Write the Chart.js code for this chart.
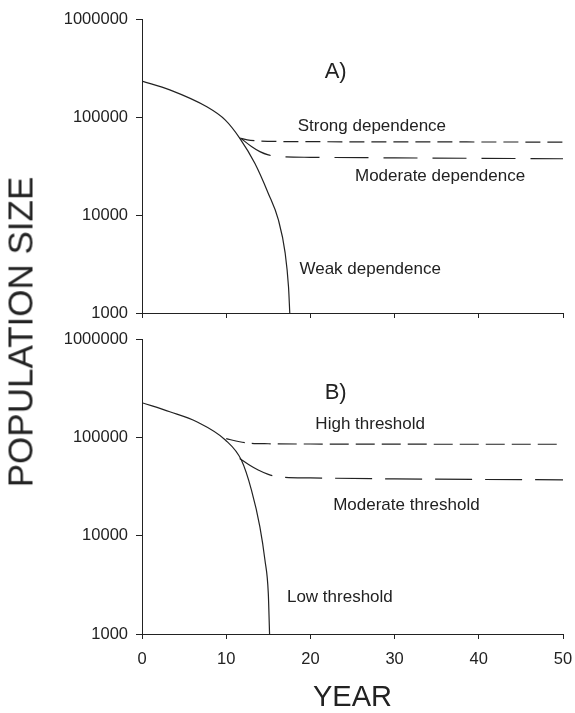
<!DOCTYPE html>
<html>
<head>
<meta charset="utf-8">
<script src="https://cdn.jsdelivr.net/npm/chart.js@4.4.1/dist/chart.umd.min.js"></script>
<style>
html,body{margin:0;padding:0;background:#fff;}
#wrap{position:relative;width:575px;height:713px;overflow:hidden;background:#fff;}
#cA{position:absolute;left:0;top:0;width:575px;height:326px;}
#cB{position:absolute;left:0;top:326px;width:575px;height:387px;}
#ytitle{position:absolute;left:20px;top:332px;transform:translate(-50%,-50%) rotate(-90deg);
  font-family:"Liberation Sans",Arial,sans-serif;font-size:35px;white-space:nowrap;color:#222;line-height:1;}
</style>
</head>
<body>
<div id="wrap">
  <canvas id="cA" width="575" height="326"></canvas>
  <canvas id="cB" width="575" height="387"></canvas>
  <div id="ytitle">POPULATION SIZE</div>
</div>
<script>
// ---- data ----
const xTicks = [0, 10, 20, 30, 40, 50];
const yTicks = [1000, 10000, 100000, 1000000];

// Panel A
const weakYears   = [0, 3.3, 7.7, 9.9, 11.6, 13.4, 15.0, 16.2, 17.0, 17.4, 17.55];
const weakPop     = [233000, 189000, 127000, 93000, 61000, 33700, 16600, 8900, 4100, 1850, 1000];
const strongYears = [11.6, 12.5, 13.5, 15, 20, 30, 40, 50];
const strongPop   = [61000, 58500, 57200, 56500, 56000, 55800, 55600, 55500];
const modDepYears = [11.8, 13, 14, 15, 16.2, 20, 30, 40, 50];
const modDepPop   = [60000, 50000, 44300, 41000, 39400, 38800, 38300, 37900, 37500];

// Panel B
const lowYears    = [0, 3.3, 6.5, 9.9, 11.8, 13.0, 14.0, 14.6, 15.0, 15.15];
const lowPop      = [225000, 182000, 144000, 94000, 58700, 29100, 12300, 5650, 2590, 1000];
const highYears   = [10.0, 11.6, 13, 15, 20, 30, 40, 50];
const highPop     = [97000, 90200, 87000, 86000, 85500, 85200, 85000, 85000];
const modThYears  = [11.6, 12.8, 13.8, 15, 16.2, 20, 30, 40, 50];
const modThPop    = [61000, 52000, 46500, 42000, 39700, 38700, 37800, 37300, 37000];

// text labels placed in data coordinates
const labelsA = [
  {text:'A)', x:23.0, y:288000, size:22},
  {text:'Strong dependence', x:27.3, y:81000, size:17},
  {text:'Moderate dependence', x:35.4, y:25000, size:17},
  {text:'Weak dependence', x:27.1, y:2810, size:17}
];
const labelsB = [
  {text:'B)', x:23.0, y:282000, size:22},
  {text:'High threshold', x:27.1, y:136000, size:17},
  {text:'Moderate threshold', x:31.4, y:20500, size:17},
  {text:'Low threshold', x:23.5, y:2370, size:17}
];

const FONT = '"Liberation Sans", Arial, sans-serif';
const INK = '#222';

function pts(xs, ys){ return xs.map((x,i)=>({x:x, y:ys[i]})); }

function ds(xs, ys, dash){
  return {
    data: pts(xs, ys), borderColor: INK, borderWidth: 1.2, borderDash: dash,
    pointRadius: 0, fill: false, cubicInterpolationMode: 'monotone'
  };
}

const textPlugin = {
  id: 'textLabels',
  afterDatasetsDraw(chart, args, opts){
    const ctx = chart.ctx, xs = chart.scales.x, ys = chart.scales.y;
    ctx.save();
    ctx.fillStyle = INK;
    ctx.textAlign = 'center';
    ctx.textBaseline = 'middle';
    (opts.items || []).forEach(l=>{
      ctx.font = l.size + 'px ' + FONT;
      ctx.fillText(l.text, xs.getPixelForValue(l.x), ys.getPixelForValue(l.y));
    });
    ctx.restore();
  }
};

function yScale(){
  return {
    type: 'logarithmic', min: 1000, max: 1000000,
    afterBuildTicks: s => { s.ticks = yTicks.map(v=>({value:v})); },
    afterFit: s => { s.width = 142; s.paddingTop = 0; s.paddingBottom = 0; s.paddingLeft = 0; s.paddingRight = 0; },
    ticks: { callback: v => String(v), color: INK, font: {family: FONT, size: 16.5}, padding: 8, autoSkip: false },
    grid: { display: true, drawOnChartArea: false, drawTicks: true, tickLength: 6, tickColor: INK, color: INK, tickWidth: 1 },
    border: { display: true, color: INK, width: 1 }
  };
}

function xScale(showLabels, h){
  return {
    type: 'linear', min: 0, max: 50,
    afterBuildTicks: s => { s.ticks = xTicks.map(v=>({value:v})); },
    afterFit: s => { s.height = h; s.paddingLeft = 0; s.paddingRight = 0; s.paddingTop = 0; s.paddingBottom = 0; },
    ticks: { display: showLabels, color: INK, font: {family: FONT, size: 16.5}, padding: 11, autoSkip: false, maxRotation: 0 },
    grid: { display: true, drawOnChartArea: false, drawTicks: true, tickLength: 5, tickColor: INK, color: INK, tickWidth: 1 },
    border: { display: true, color: INK, width: 1 },
    title: { display: showLabels, text: 'YEAR', color: INK, font: {family: FONT, size: 29}, padding: {top: 0, bottom: -2} }
  };
}

function common(labels, xs, padTop){
  return {
    responsive: false, animation: false, maintainAspectRatio: false,
    layout: { padding: { top: padTop, right: 12, left: 0, bottom: 0 } },
    plugins: { legend: {display: false}, tooltip: {enabled: false}, textLabels: { items: labels } },
    scales: { x: xs, y: yScale() }
  };
}

new Chart(document.getElementById('cA'), {
  type: 'line',
  data: { datasets: [
    ds(weakYears, weakPop, []),
    ds(strongYears, strongPop, [15, 7]),
    ds(modDepYears, modDepPop, [34, 15])
  ]},
  options: common(labelsA, xScale(false, 13), 19),
  plugins: [textPlugin]
});

new Chart(document.getElementById('cB'), {
  type: 'line',
  data: { datasets: [
    ds(lowYears, lowPop, []),
    ds(highYears, highPop, [19, 7]),
    ds(modThYears, modThPop, [37, 13])
  ]},
  options: common(labelsB, xScale(true, 79), 13),
  plugins: [textPlugin]
});
</script>
</body>
</html>
